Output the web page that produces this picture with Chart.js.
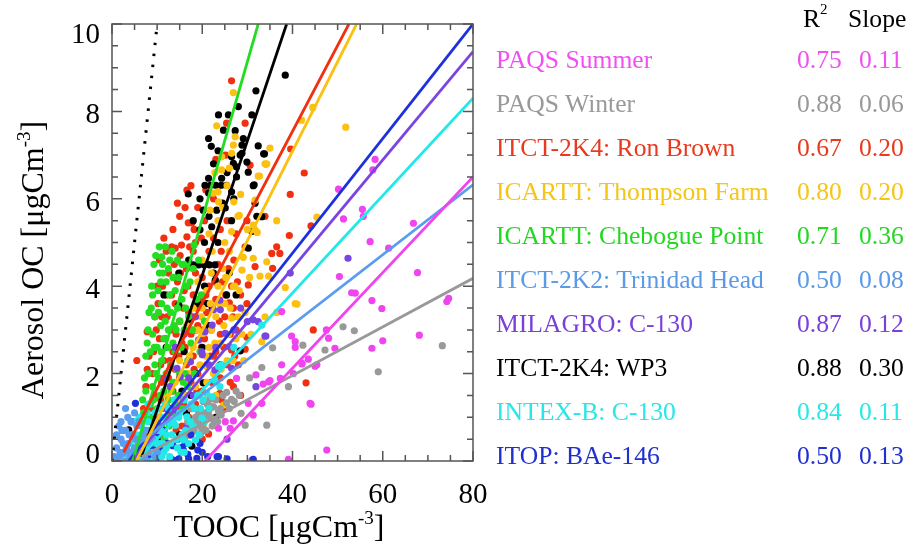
<!DOCTYPE html>
<html>
<head>
<meta charset="utf-8">
<script src="https://cdn.jsdelivr.net/npm/chart.js@4.4.1/dist/chart.umd.min.js"></script>
<style>
  body { margin: 0; background: #fff; }
  #wrap { position: relative; width: 907px; height: 544px; }
  #legend { position: absolute; left: 0; top: 0; width: 907px; height: 544px; pointer-events: none;
            font-family: "Liberation Serif", "Times New Roman", serif; font-size: 25.6px; }
  #legend div { position: absolute; height: 44px; line-height: 44px; white-space: nowrap; }
  sup { font-size: 15px; line-height: 0; position: relative; top: -3px; vertical-align: super; }
</style>
</head>
<body>
<div id="wrap">
  <canvas id="chart" width="907" height="544"></canvas>
  <div id="legend"></div>
</div>
<script>
// Series, in legend order
const seriesNames = ['PAQS Summer', 'PAQS Winter', 'ITCT-2K4: Ron Brown', 'ICARTT: Thompson Farm',
  'ICARTT: Chebogue Point', 'ITCT-2K2: Trinidad Head', 'MILAGRO: C-130', 'ITCT-2K4: WP3',
  'INTEX-B: C-130', 'ITOP: BAe-146'];
const r2Values = ['0.75', '0.88', '0.67', '0.80', '0.71', '0.50', '0.87', '0.88', '0.84', '0.50'];
const slopeValues = ['0.11', '0.06', '0.20', '0.20', '0.36', '0.08', '0.12', '0.30', '0.11', '0.13'];

// Regression line ends [x, y]
const fitStart = [[20.6, 0], [6.6, 0.1], [2.6, 0.2], [5.4, 0], [4.6, 0], [1, 0], [4.4, 0], [6.5, 0.1], [5.5, 0], [3.7, 0]];
const fitEnd = [[80, 6.5], [80, 4.18], [52.5, 10], [54.2, 10], [32.4, 10], [80, 6.32], [80, 9.37], [38.7, 10], [80, 8.3], [80, 10]];
const oneToOne = [[0, 0], [10, 10]];

const xTicks = [0, 20, 40, 60, 80];
const yTicks = [0, 2, 4, 6, 8, 10];

// Scatter points [TOOC, OC]
const paqsSummer = [[58.3,6.9],[57.8,6.66],[50.2,6.22],[51.3,5.54],[55.5,5.76],[55.7,5.6],[66.8,5.44],[57.2,5.02],[61.3,4.87],
  [67.7,4.31],[50.4,4.22],[53.1,3.85],[53.9,3.84],[57.6,3.67],[59.8,3.49],[74.6,3.72],[74.2,3.65],[37.6,3.42],[39.8,2.86],
  [40.6,2.73],[40.6,2.6],[47.5,3.0],[48,2.81],[49.4,2.58],[57.6,2.58],[60,2.75],[68.1,2.88],[43.5,2.33],[42.1,2.24],[37.6,2.2],
  [45.4,2.2],[31.9,1.97],[34.7,1.81],[33.5,1.76],[37.3,1.89],[40.2,2.0],[33.2,1.32],[31.3,1.05],[44.1,1.3],[47.6,0.25],[39.1,0.04],
  [27.6,1.89],[35,1.84],[30.2,1.32],[25.1,0.9],[26.9,0.92],[23.6,0.75],[26.2,0.75],[43.9,1.32],[31,0.02],[42.1,2.22],[45,2.17]];
const paqsWinter = [[33.2,2.14],[39.1,1.7],[34.3,0.82],[28.6,1.09],[25.4,1.57],[27.1,1.36],[22.5,1.24],[23.6,1.13],[21.4,1.13],
  [21,0.95],[22.5,0.94],[20.1,0.82],[19.9,0.67],[25.4,1.33],[26.5,1.41],[29.5,0.82],[21.7,1.41],[20.2,1.36],[22.2,1.24],
  [18.8,0.9],[19.6,0.79],[20.3,0.95],[22.9,0.94],[17.7,0.82],[17,0.67],[35.6,2.59],[42.3,2.65],[51.2,3.07],[53.7,2.98],
  [47.2,2.54],[59,2.04],[73.2,2.64],[24.2,1.05],[16.2,0.55],[18.2,0.7],[18.5,1.0],[19.2,1.1],[19.5,0.6],[20.6,1.1],[20.8,0.7],
  [21.2,1.3],[21.8,1.0],[22.2,0.8],[23,1.4],[23.4,0.9],[24,1.2],[24.6,1.5],[26,1.2],[27.5,1.6],[28.2,1.5],[30.5,1.9],[16.8,0.9],
  [17.5,1.2]];
const ronBrown = [[26.5,8.7],[25.4,7.73],[29.5,7.73],[16.6,6.2],[39.5,6.1],[39.6,7.14],[42.6,6.59],[33.9,5.6],[44.1,5.38],
  [39.3,5.16],[36.5,4.9],[44.6,3.0],[43,1.79],[30.6,6.77],[29.9,5.5],[29.5,4.9],[35.4,4.75],[37.2,4.75],[30.2,4.03],[31.7,4.45],
  [29.9,3.6],[29.9,2.83],[29.5,2.56],[26.5,2.54],[26,3.62],[26.9,3.5],[35.6,4.41],[26.9,1.7],[21.4,0.62],[23.9,1.55],[17.7,5.45],
  [14,4.87],[16.6,5.13],[15.1,4.7],[7.8,2.1],[25.2,7.0],[23,6.9],[22.5,6.0],[20.5,5.5],[24,5.3],[18.5,5.0],
  [10.5,2.8],[11,3.3],[12,3.8],[12.5,4.3],[13,3.0],[13.5,2.5],[14,3.6],[14.5,4.1],[15,3.2],[15.5,2.7],[16,3.9],[16.5,4.4],
  [17,3.4],[17.5,2.9],[18,3.8],[18.5,4.3],[19,3.1],[19.5,3.7],[20,4.2],[20.5,2.8],[21,3.4],[21.5,4.0],[22,3.0],[22.5,2.4],
  [23,3.7],[23.5,4.5],[24,2.9],[25,3.3],[25.5,2.2],[26.5,4.0],[27.5,3.0],[28,2.2],[9,2.0],[9.5,1.5],[10,1.0],[11,1.8],
  [11.5,2.3],[12,1.3],[12.5,1.9],[13,0.9],[13.5,1.6],[14,2.1],[14.5,1.2],[15,1.9],[15.5,0.8],[16,1.5],[16.5,2.2],[17,1.0],
  [17.5,1.8],[18,2.4],[18.5,1.3],[19,2.0],[20,1.6],[21,2.2],[22,1.8],[23,2.5],[24,1.9],[19.5,0.9],[8.5,1.2],[8,0.6],[12,4.8],
  [13.5,5.3],[15,5.6],[11.5,5.1],[10.5,4.6],[19,5.8],[17.5,6.3],[18,4.8],[21.5,4.8],[22.5,5.1],[6.5,0.5],[7,1.2],[10,4.0],
  [9.5,3.3],[24.5,4.1],[27,4.6],[28.5,3.8],[20,0.5],[25,1.2],[7.8,2.96],[5.5,2.3],[13.2,4.9],[16.9,5.45],[15.4,4.94],
  [9.2,2.5],[9.8,3.0],[10.2,3.6],[10.8,2.2],[11.2,4.0],[11.8,2.8],[12.2,3.3],[12.8,2.3],[13.2,3.8],[13.8,4.5],[14.2,2.9],
  [14.8,2.4],[15.2,4.3],[15.8,3.5],[16.2,2.6],[16.8,4.0],[17.2,4.9],[17.8,3.3],[18.2,2.1],[18.8,3.5],[19.2,4.5],[19.8,2.6],
  [20.2,3.0],[20.8,3.8],[21.2,4.5],[21.8,2.4],[22.2,3.5],[22.8,4.1],[23.2,2.1],[23.8,3.2],[24.2,4.8],[24.8,2.6],[25.2,3.8],
  [25.8,4.4],[26.2,2.9],[26.8,3.3],[27.2,2.4],[27.8,4.1],[18.2,5.3],[19.8,5.1],[16.2,5.8],[14.5,5.9],[20.8,6.2],[12.8,1.1],
  [14.2,0.7],[15.8,1.3],[17.2,0.6],[18.8,1.6],[21.2,1.3],[22.8,0.9],[10.8,1.4],[9.2,0.8],[11.2,0.6],[24.2,1.4],[26.2,1.8],
  [28.5,1.5],[7.5,1.7],[8.2,2.4],[6.2,1.0],[25.5,5.5],[27.5,5.2]];
const thompsonFarm = [[26.9,8.43],[23.2,7.67],[27.3,7.42],[26.9,7.23],[35,7.16],[33.9,6.8],[32.4,6.52],[24.3,6.66],[27,5.93],
  [31.7,5.97],[27.9,5.6],[36.5,5.5],[22.4,6.13],[23.5,6.16],[21.7,5.74],[44.5,8.09],[42,7.8],[51.8,7.64],[34.1,6.79],[32.7,6.52],
  [45.4,5.58],[31.7,5.29],[32.2,5.23],[26.5,7.04],[34.3,6.8],[28.2,5.62],[31.3,5.4],[26.5,5.25],[29.1,4.66],[31.3,4.64],
  [34.3,4.56],[23.6,5.93],[24.3,6.96],[28.8,4.37],[32.8,4.23],[34.7,4.23],[38.4,3.97],[26.9,3.99],[28,3.3],[26.5,3.27],
  [40.6,3.6],[33.2,2.73],[20.2,2.92],[24.7,1.28],[21,2.16],[41,3.59],[33.9,3.3],[16,1.5],[17,2.0],[18,2.6],[19,3.0],[20,3.5],
  [21,3.9],[22,4.3],[23,3.3],[24,2.7],[25,3.6],[19.5,2.2],[18.5,1.7],[21.5,2.6],[22.5,2.0],[23.5,4.0],[24.5,4.4],[17.5,1.2],
  [20.5,1.4],[19,4.1],[20,4.6],[25.5,2.3],[26,4.8],[15,2.3],[16.5,3.1],[22,3.0],[21,1.8],[23,1.5],[27.5,2.8],[14,1.8],[13,1.0],
  [12,1.5],[25,5.0],[21.5,5.2],[18,3.5],[17.2,2.4],[18.2,3.0],[19.2,1.5],[19.8,3.3],[20.8,2.4],[21.8,3.6],[22.2,4.8],[22.8,2.7],
  [23.8,3.6],[24.2,2.1],[24.8,3.1],[25.2,4.2],[25.8,2.9],[26.2,3.5],[26.8,2.3],[27.2,4.0],[28.2,3.9],[28.8,2.9],[29.5,3.4],
  [30.5,4.2],[23.5,5.5],[24.5,5.8],[25.5,6.3],[26,6.7],[22.8,6.6],[28.5,6.1],[30,5.3],[16.8,0.9],[18.8,1.0],[20.2,0.8],
  [21.8,1.2],[13.5,0.9],[15.2,1.4],[29.2,2.3],[30.8,2.9],[36.5,3.4]];
const cheboguePoint = [[11.8,4.9],[11,4.67],[18.2,4.94],[15.5,4.5],[10.5,4.3],[11.2,4.5],[12.5,4.4],[10.2,3.9],[12,4.1],[13.5,4.2],
  [11,3.6],[9.5,3.3],[12.8,3.8],[14,3.9],[10.8,3.1],[13,3.4],[9,2.9],[11.5,2.8],[12.5,3.0],[14.5,3.5],[8.5,2.5],[10,2.6],
  [13.5,2.7],[15,3.2],[9.5,2.2],[11,2.3],[12,2.0],[8,2.0],[10.5,1.9],[13,2.2],[14,2.5],[16,3.0],[7.5,1.6],[9,1.7],[11.5,1.6],
  [12.5,1.4],[8.5,1.3],[10,1.2],[13.5,1.8],[15,2.0],[7,1.1],[9.5,0.9],[11,0.8],[8,0.7],[12,1.0],[16.5,4.0],[15.5,3.7],[17,3.3],
  [18,4.4],[14.5,4.6],[16,4.5],[10.5,4.9],[6.5,0.6],[17.5,2.7],[9,3.8],[8,3.0],[7.5,2.4],[14,1.3],[19.5,2.5],[20.5,3.2],
  [7.2,1.9],[7.8,2.7],[8.2,3.4],[8.8,4.0],[9.3,4.5],[9.8,2.0],[10.3,3.4],[10.8,4.1],[11.3,1.2],[11.8,3.2],[12.3,2.6],[12.8,4.6],
  [13.2,1.6],[13.8,3.1],[14.3,2.1],[14.8,4.2],[15.3,2.6],[15.8,1.8],[16.3,3.5],[16.8,2.3],[17.3,4.1],[17.8,3.0],[18.3,2.0],
  [18.8,3.7],[19.2,4.6],[6.2,0.9],[6.8,1.4],[7.3,0.5],[8.3,1.0],[9.2,1.4],[10.2,0.6],[10.7,1.5],[11.7,0.5],[12.7,0.8],[13.7,1.1],
  [14.7,1.5],[15.7,1.2],[16.7,1.7],[5.8,0.4],[5.5,0.9],[9.7,4.7],[13.3,4.8],[8.7,3.5],[12.2,3.5],[14.2,3.0],[16.2,2.0],[19.8,3.8],
  [11.3,4.3],[9.4,2.6],[10.9,2.5]];
const trinidadHead = [[0.5,0.1],[1,0.3],[1.5,0.1],[2,0.5],[2.5,0.2],[3,0.7],[3.5,0.4],[4,0.1],[4.5,0.6],[5,0.3],[5.5,0.8],
  [6,0.5],[6.5,0.1],[7,0.4],[7.5,0.7],[8,0.2],[2,0.9],[3.5,1.0],[1,0.6],[4.5,0.2],[9,0.5],[10,0.2],[5,1.1],[2.5,0.4],[6,0.9],
  [1.2,0.0],[1.8,0.2],[2.2,0.7],[2.8,0.0],[3.2,0.3],[3.8,0.6],[4.2,0.9],[4.8,0.0],[5.2,0.5],[5.8,0.1],[6.2,0.3],[6.8,0.6],
  [7.2,0.1],[8.5,0.4],[3,1.2],[1.5,0.8],[9.5,0.1],[7.8,0.0]];
const milagro = [[52.3,4.64],[34.1,2.86],[31.9,1.7],[39.5,4.3],[30,3.19],[31.3,3.23],[32.4,3.19],[33.9,2.86],[22.5,3.46],
  [20.6,2.96],[25.1,2.92],[26,2.62],[19.9,2.5],[23.9,3.68],[26.5,2.12],[22.8,2.08],[20,2.43],[24,3.46],[19.2,2.77],[22.2,3.11],
  [17.4,2.27],[11.5,1.89],[12.9,1.7],[15.1,1.93],[15.9,1.4],[13.7,1.17],[8.9,0.67],[14.4,2.12],[18,1.5],[16.5,0.8],[21,1.1],
  [25.5,0.5],[10,0.9],[14,2.6],[16,2.9],[18.5,3.3],[21.5,2.2],[23,2.6],[27,3.0],[28.5,3.5],[12,1.2],[17,1.9]];
const wp3 = [[38.4,8.83],[31.9,8.47],[28,8.11],[23.6,7.92],[25.8,7.92],[31,7.92],[21.4,7.38],[24.7,7.57],[27.3,7.56],[29.1,7.38],
  [28.8,7.23],[32.4,7.21],[33.8,7.03],[28.4,7.0],[26.5,6.96],[29.9,6.84],[30.2,6.61],[21.4,6.47],[24.3,6.47],[27.6,6.73],
  [16.9,6.11],[31.3,6.3],[21.4,6.13],[20.2,5.74],[23.2,5.74],[25.1,5.79],[32.1,5.6],[31.7,5.9],[22.1,5.36],[19.5,5.29],
  [20.6,6.31],[21.8,6.31],[23,6.31],[24.2,6.31],[25.4,6.31],[18,4.49],[19.2,4.49],[20.4,4.49],[21.6,4.49],[22.8,4.49],
  [11.5,3.8],[14.8,4.3],[22.9,4.14],[14.8,3.57],[17.4,3.23],[22.2,3.53],[25.4,3.8],[27.5,3.8],[22.5,4.3],[21,3.6],[28.4,2.52],
  [20.2,1.79],[3.7,0.71],[17.7,0.34],[28.8,7.04],[26.9,6.81],[33.6,7.03],[31.5,6.32],[27.6,6.5],[31,5.25],[30.2,4.87],
  [33.2,5.59],[26.5,6.16],[16,2.5],[18.5,2.0],[19,3.6],[20.5,4.0],[17,4.6],[15.5,1.6],[13,1.2],[24,2.2],[12,2.6],[10,0.5],
  [9,1.0],[26,4.3],[23.5,5.0],[18,5.5],[20.5,5.0],[21.5,5.6],[22.5,6.8],[23.5,7.1],[24.5,5.9],[25.5,6.6],[26.5,5.5],[19.5,6.0],
  [22,7.2],[27,6.0],[18.5,3.0],[20,2.6],[21.5,3.1],[17.5,1.5],[16.5,1.1],[15,0.6],[12.5,0.4],[19,0.9],[23,1.0]];
const intexB = [[3,0.2],[4,0.4],[5,0.3],[5.5,0.6],[6,0.2],[6.5,0.8],[7,0.5],[7.5,0.3],[8,0.9],[8.5,0.6],[9,0.2],[9.5,1.1],
  [10,0.7],[10.5,0.4],[11,1.0],[11.5,0.2],[12,0.6],[12.5,1.2],[13,0.4],[13.5,0.9],[14,0.82],[14.5,0.3],[15,1.1],[15.5,0.6],
  [16,0.2],[16.6,1.01],[17,0.4],[17.5,1.3],[18.5,0.48],[19.6,1.2],[19.9,0.98],[20.2,1.4],[21,1.55],[22.2,1.47],[22.8,1.85],
  [23.6,2.17],[23.9,1.7],[15.8,0.48],[33.2,3.11],[24.3,2.2],[18,0.8],[11,0.1],[8,1.3],[6,1.0],[27,2.6],
  [3.5,0.1],[4.5,0.6],[5.2,0.9],[6.2,0.4],[6.8,0.1],[7.3,0.7],[7.8,1.1],[8.3,0.4],[8.8,0.0],[9.3,0.8],[9.8,0.4],[10.3,1.2],
  [10.8,0.7],[11.3,0.4],[11.8,1.3],[12.3,0.9],[12.8,0.1],[13.3,0.6],[13.8,1.4],[14.3,0.5],[14.8,1.0],[15.3,0.2],[16.3,0.7],
  [17.3,0.9],[18.3,1.2],[19.3,0.6],[20.5,0.9],[21.5,1.2],[19,1.5],[16,1.4],[12,0.3],[9.5,0.5]];
const itop = [[15.5,0.31],[10.7,0.1],[12.9,0.06],[5.2,1.32],[18.8,0.06],[23.3,0.1],[31.3,0.04],[23.6,0.1],[13.6,0.02],
  [15.8,0.25],[12.1,0.4],[9,0.3],[11.5,0.7],[14.5,0.5],[16.8,0.15],[20,0.2],[8,0.1],[17.5,0.6],[7,0.5],[4.5,0.9],[19.5,0.4],
  [9.8,0.05],[11,0.3],[13.5,0.35],[14.8,0.05],[16.2,0.4],[17,0.05],[19,0.25],[21.2,0.1],[25.5,0.05],[6.5,0.2],[10.2,0.6]];

const seriesPoints = [paqsSummer, paqsWinter, ronBrown, thompsonFarm, cheboguePoint, trinidadHead, milagro, wp3, intexB, itop];
const colors = ['#f044ee', '#999999', '#f03010', '#fcc010', '#22dd22', '#5a9cf0', '#7a44e0', '#000000', '#22e8e8', '#1e30dc'];
const textColors = ['#f050f0', '#999999', '#e83a1e', '#f5c518', '#22d822', '#5a9ae8', '#7a40d8', '#000000', '#2ae6e6', '#2030d0'];
// drawing stack: higher number drawn first (further back)
const stack = [4, 5, 10, 8, 7, 1, 6, 9, 2, 3];

const FONT = '"Liberation Serif", "Times New Roman", serif';
const toXY = p => ({ x: p[0], y: p[1] });

const datasets = [];
seriesPoints.forEach((pts, i) => {
  datasets.push({
    type: 'line', data: [toXY(fitStart[i]), toXY(fitEnd[i])], borderColor: colors[i],
    borderWidth: 2.8, pointRadius: 0, fill: false, order: 0
  });
});
datasets.push({
  type: 'line', data: oneToOne.map(toXY), borderColor: '#000', borderWidth: 3,
  borderDash: [2.5, 8.5], pointRadius: 0, fill: false, order: 0
});
seriesPoints.forEach((pts, i) => {
  datasets.push({
    type: 'scatter', data: pts.map(toXY), backgroundColor: colors[i], borderWidth: 0,
    pointRadius: 3.6, order: stack[i]
  });
});

function unitText(ctx, main, sup, tail, size, cx, cy) {
  ctx.font = size + 'px ' + FONT;
  const w1 = ctx.measureText(main).width;
  const w3 = ctx.measureText(tail).width;
  ctx.font = Math.round(size * 0.6) + 'px ' + FONT;
  const w2 = ctx.measureText(sup).width;
  let x = cx - (w1 + w2 + w3) / 2;
  ctx.textAlign = 'left';
  ctx.textBaseline = 'alphabetic';
  ctx.font = size + 'px ' + FONT;
  ctx.fillText(main, x, cy);
  ctx.font = Math.round(size * 0.6) + 'px ' + FONT;
  ctx.fillText(sup, x + w1, cy - size * 0.42);
  ctx.font = size + 'px ' + FONT;
  ctx.fillText(tail, x + w1 + w2, cy);
}

const axesPlugin = {
  id: 'axesPlugin',
  afterDraw(chart) {
    const { ctx, chartArea: a, scales: { x, y } } = chart;
    ctx.save();
    ctx.strokeStyle = '#555';
    ctx.lineWidth = 1.5;
    ctx.strokeRect(a.left, a.top, a.right - a.left, a.bottom - a.top);
    ctx.beginPath();
    for (let v = x.min; v <= x.max; v += 5) {
      const px = x.getPixelForValue(v);
      const len = v % 20 === 0 ? 10 : 6;
      ctx.moveTo(px, a.bottom); ctx.lineTo(px, a.bottom - len);
      ctx.moveTo(px, a.top); ctx.lineTo(px, a.top + len);
    }
    for (let v = y.min; v <= y.max + 1e-9; v += 0.5) {
      const py = y.getPixelForValue(v);
      const len = Math.abs(v % 2) < 1e-9 ? 10 : 6;
      ctx.moveTo(a.left, py); ctx.lineTo(a.left + len, py);
      ctx.moveTo(a.right, py); ctx.lineTo(a.right - len, py);
    }
    ctx.stroke();

    ctx.fillStyle = '#000';
    ctx.font = '29px ' + FONT;
    ctx.textAlign = 'center';
    ctx.textBaseline = 'alphabetic';
    xTicks.forEach(v => ctx.fillText(String(v), x.getPixelForValue(v), a.bottom + 42));
    ctx.textAlign = 'right';
    yTicks.forEach(v => {
      let c = y.getPixelForValue(v) + 2;
      c = Math.min(Math.max(c, a.top + 9), a.bottom - 8);
      ctx.fillText(String(v), a.left - 12, c + 10);
    });

    unitText(ctx, 'TOOC [\u03bcgCm', '-3', ']', 32, 279, 537);
    ctx.save();
    ctx.translate(43, 260);
    ctx.rotate(-Math.PI / 2);
    unitText(ctx, 'Aerosol OC [\u03bcgCm', '-3', ']', 32, 0, 0);
    ctx.restore();
    ctx.restore();
  }
};

new Chart(document.getElementById('chart').getContext('2d'), {
  type: 'scatter',
  data: { datasets },
  options: {
    responsive: false,
    animation: false,
    layout: { padding: { left: 0, right: 434, top: 24, bottom: 0 } },
    plugins: { legend: { display: false }, tooltip: { enabled: false } },
    scales: {
      x: {
        type: 'linear', min: 0, max: 80,
        ticks: { display: false, stepSize: 20 },
        grid: { display: false, drawTicks: false },
        border: { display: false },
        afterFit: s => { s.height = 83; }
      },
      y: {
        type: 'linear', min: 0, max: 10,
        ticks: { display: false, stepSize: 2 },
        grid: { display: false, drawTicks: false },
        border: { display: false },
        afterFit: s => { s.width = 112; }
      }
    }
  },
  plugins: [axesPlugin]
});

// Legend table on the right
const legend = document.getElementById('legend');
[['R<sup>2</sup>', 803], ['Slope', 848]].forEach(([html, left]) => {
  const h = document.createElement('div');
  h.style.top = '-3px';
  h.style.left = left + 'px';
  h.innerHTML = html;
  legend.appendChild(h);
});
seriesNames.forEach((name, i) => {
  const top = 38 + i * 44;
  [[name, 496], [r2Values[i], 797], [slopeValues[i], 859]].forEach(([t, left]) => {
    const d = document.createElement('div');
    d.textContent = t;
    d.style.left = left + 'px';
    d.style.top = top + 'px';
    d.style.color = textColors[i];
    legend.appendChild(d);
  });
});
</script>
</body>
</html>
